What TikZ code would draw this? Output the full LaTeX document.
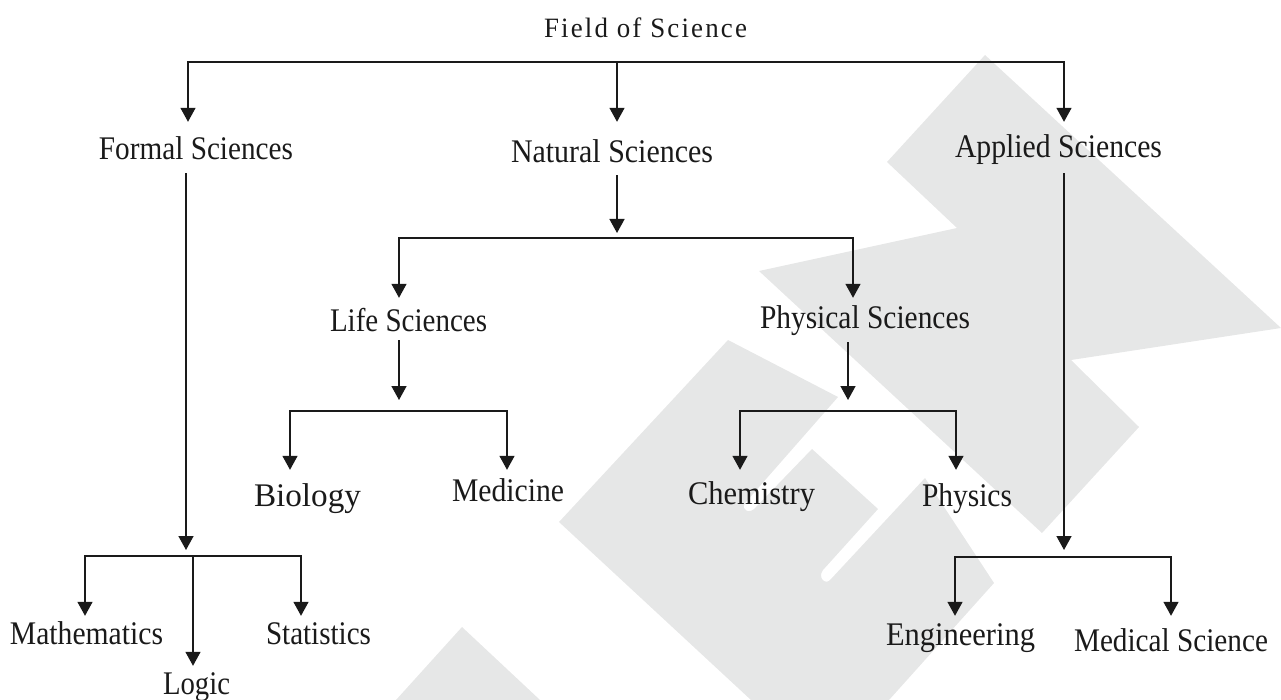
\documentclass[tikz,border=0pt]{standalone}
\usepackage{graphicx}
\usepackage{fontspec}
\setmainfont{Liberation Serif}
\newfontfamily\titlefont[LetterSpace=8]{Liberation Serif}
\usetikzlibrary{arrows.meta}
\definecolor{mark}{HTML}{E6E7E7}
\definecolor{ink}{HTML}{1A1A1A}
\newcommand{\fitw}[2]{\resizebox{#1pt}{\height}{#2}}
\tikzset{
  lbl/.style={anchor=base,inner sep=0pt,text height=22pt,text depth=6pt,text=ink,font=\fontsize{33}{36}\selectfont},
  ttl/.style={anchor=base,inner sep=0pt,text height=21pt,text depth=7pt,text=ink,font=\fontsize{28}{31}\selectfont\titlefont},
  wire/.style={draw=ink,line width=1.5pt},
  arr/.style={wire,-{Triangle[length=14pt,width=15pt]}},
  wm/.style={fill=mark,draw=none}
}
\begin{document}
\begin{tikzpicture}[x=1pt,y=-1pt]
\useasboundingbox (0,0) rectangle (1281,700);
% watermark
\fill[wm] (985,55) -- (1281,328) -- (1071,360) -- (1139,427) -- (1042,533) -- (759,271) -- (957,228) -- (887,162) -- cycle;
\fill[wm] (728,340) -- (838,397) -- (745,503) .. controls (740,510) and (750,515) .. (756,507) -- (812,449) -- (878,509) -- (823,570)
  .. controls (817,578) and (826,586) .. (831,579) -- (925,478) -- (994,583) -- (889,700) -- (751,700) -- (559,522) -- cycle;
\fill[wm] (462,627) -- (540,700) -- (396,700) -- cycle;
% labels
\node[ttl] (field) at (645.5,38) {\fitw{203}{Field of Science}};
\node[lbl] (formal) at (196,160) {\fitw{194}{Formal Sciences}};
\node[lbl] (natural) at (612,163) {\fitw{202}{Natural Sciences}};
\node[lbl] (applied) at (1058.5,158) {\fitw{207}{Applied Sciences}};
\node[lbl] (life) at (408.5,331) {\fitw{157}{Life Sciences}};
\node[lbl] (physical) at (865,329) {\fitw{210}{Physical Sciences}};
\node[lbl] (biology) at (307.5,506) {\fitw{107}{Biology}};
\node[lbl] (medicine) at (508,501) {\fitw{112}{Medicine}};
\node[lbl] (chemistry) at (751.5,504) {\fitw{127}{Chemistry}};
\node[lbl] (physics) at (967,506) {\fitw{90}{Physics}};
\node[lbl] (mathematics) at (86.5,644) {\fitw{153}{Mathematics}};
\node[lbl] (logic) at (196.5,694) {\fitw{67}{Logic}};
\node[lbl] (statistics) at (318.5,644) {\fitw{105}{Statistics}};
\node[lbl] (engineering) at (960.5,645) {\fitw{149}{Engineering}};
\node[lbl] (medsci) at (1171,651) {\fitw{194}{Medical Science}};
% junctions
\coordinate (jtop) at (617,62);
\coordinate (jnat) at (617,238);
\coordinate (jlife) at (399,411);
\coordinate (jphys) at (848,411);
\coordinate (jform) at (186,556);
\coordinate (jlog) at (193,556);
\coordinate (japp) at (1064,557);
% top level
\draw[arr] (jtop) -| ([shift={(-8,-16)}]formal.north);
\draw[arr] (jtop) -- ([shift={(5,-19)}]natural.north);
\draw[arr] (jtop) -| ([shift={(5.5,-14)}]applied.north);
% stems
\draw[arr] ([shift={(5,6)}]natural.south) -- ([yshift=5pt]jnat);
\draw[arr] ([shift={(-9.5,3)}]life.south) -- ([yshift=11pt]jlife);
\draw[arr] ([shift={(-17,7)}]physical.south) -- ([yshift=11pt]jphys);
\draw[arr] ([shift={(-10,7)}]formal.south) -- ([yshift=6pt]jform);
\draw[arr] ([shift={(5.5,9)}]applied.south) -- ([yshift=7pt]japp);
% second level
\draw[arr] (jnat) -| ([shift={(-9.5,-11)}]life.north);
\draw[arr] (jnat) -| ([shift={(-12,-9)}]physical.north);
\draw[arr] (jlife) -| ([shift={(-17.5,-14)}]biology.north);
\draw[arr] (jlife) -| ([shift={(-1,-9)}]medicine.north);
\draw[arr] (jphys) -| ([shift={(-11.5,-12)}]chemistry.north);
\draw[arr] (jphys) -| ([shift={(-11,-14)}]physics.north);
\draw[arr] (jform) -| ([shift={(-1.5,-6)}]mathematics.north);
\draw[arr] (jform) -| ([shift={(-17.5,-6)}]statistics.north);
\draw[arr] (jlog) -- ([shift={(-3.5,-6)}]logic.north);
\draw[arr] (japp) -| ([shift={(-5.5,-7)}]engineering.north);
\draw[arr] (japp) -| ([shift={(0,-13)}]medsci.north);
\end{tikzpicture}
\end{document}
